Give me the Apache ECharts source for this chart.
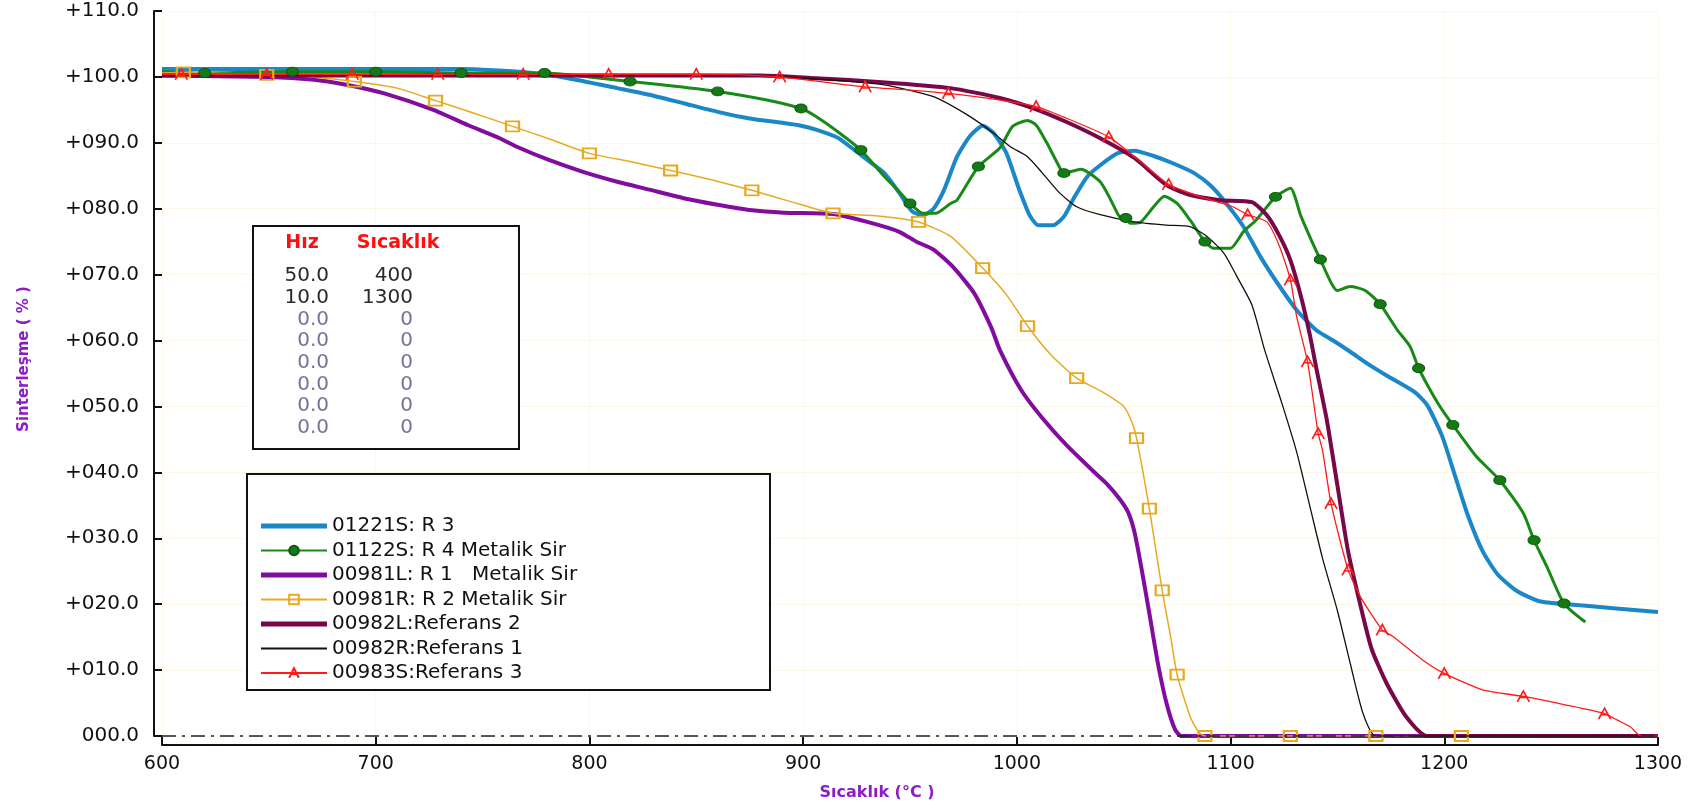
<!DOCTYPE html>
<html lang="tr">
<head>
    <meta charset="UTF-8">
    <title>Sinterleşme - Sıcaklık</title>
    <style>
        html, body { margin: 0; padding: 0; background: #fff; }
        #chart { width: 1701px; height: 810px; }
    </style>
</head>
<body>
    <div id="chart"></div>
    <script src="https://cdn.jsdelivr.net/npm/echarts@6/dist/echarts.min.js"></script>
    <script>
        // eksen araligi
        var xMin = 600, xMax = 1300, xStep = 100
        var yMin = 0, yMax = 110, yStep = 10

        // isitma programi tablosu
        var hizVals = [50.0, 10.0, 0.0, 0.0, 0.0, 0.0, 0.0, 0.0]
        var sicVals = [400, 1300, 0, 0, 0, 0, 0, 0]

        var seriesNames = [
            '01221S: R 3',
            '01122S: R 4 Metalik Sir',
            '00981L: R 1   Metalik Sir',
            '00981R: R 2 Metalik Sir',
            '00982L:Referans 2',
            '00982R:Referans 1',
            '00983S:Referans 3'
        ]

        // [sicaklik, sinterlesme %]
        var blueCurve = [[600,101.2],[740,101.2],[770,100.7],[790,99.8],[813,98.3],[828,97.3],[844,96.0],[860,94.7],[875,93.7],[891,93.0],[899,92.6],[906,92.0],[916,90.8],[922,89.4],[930,87.4],[938,85.4],[945,82.4],[951,79.6],[956,79.0],[961,80.0],[966,82.9],[972,87.9],[978,91.0],[984,92.6],[989,91.5],[995,88.5],[1001,83.0],[1006,79.0],[1010,77.5],[1017,77.5],[1022,78.8],[1027,81.8],[1033,84.9],[1039,86.6],[1047,88.4],[1055,88.8],[1064,88.0],[1073,86.9],[1083,85.4],[1091,83.4],[1098,80.8],[1106,77.3],[1114,72.7],[1123,68.2],[1131,64.6],[1140,61.6],[1148,60.0],[1156,58.3],[1164,56.5],[1174,54.5],[1186,52.2],[1192,50.2],[1199,45.5],[1205,39.5],[1211,33.5],[1218,28.0],[1225,24.5],[1234,22.0],[1245,20.4],[1265,19.8],[1300,18.8]]

        var greenCurve = [[600,100.8],[640,100.7],[680,100.8],[720,100.7],[760,100.6],[800,100.0],[840,98.6],[883,96.5],[906,94.0],[917,91.5],[938,84.9],[944,82.9],[956,79.3],[962,79.3],[969,80.8],[972,81.3],[992,89.2],[998,92.5],[1005,93.4],[1009,92.7],[1014,90.0],[1019,86.9],[1030,86.0],[1039,84.1],[1044,81.3],[1048,78.8],[1053,77.8],[1058,78.0],[1064,80.3],[1069,81.9],[1075,80.8],[1081,78.3],[1092,74.0],[1100,74.0],[1106,76.5],[1112,78.3],[1128,83.1],[1133,78.8],[1150,67.6],[1156,68.2],[1163,67.6],[1178,61.6],[1184,59.1],[1197,50.5],[1215,42.4],[1237,33.8],[1248,25.7],[1266,17.3]]
        var greenMarks = [[620,100.6],[661,100.8],[700,100.8],[740,100.6],[779,100.6],[819,99.3],[860,97.8],[899,95.2],[927,88.9],[950,80.8],[982,86.4],[1022,85.4],[1051,78.6],[1088,75.0],[1121,81.8],[1142,72.3],[1170,65.5],[1188,55.8],[1204,47.2],[1226,38.8],[1242,29.7],[1256,20.1]]

        var purpleCurve = [[600,100.2],[650,100.0],[670,99.6],[688,98.7],[704,97.5],[727,95.0],[743,92.7],[758,90.7],[766,89.4],[781,87.4],[797,85.6],[813,84.1],[828,82.9],[844,81.6],[860,80.6],[875,79.8],[891,79.4],[914,79.2],[930,78.0],[945,76.5],[953,75.0],[961,73.8],[970,71.2],[980,67.2],[988,62.0],[992,58.6],[1002,52.5],[1012,48.2],[1023,44.2],[1036,40.1],[1042,38.3],[1048,36.0],[1052,34.0],[1055,31.0],[1058,26.0],[1062,18.6],[1066,11.0],[1070,5.0],[1074,1.0],[1077,0],[1300,0]]

        var orangeCurve = [[600,100.6],[630,100.5],[670,100.0],[710,98.3],[745,94.6],[782,90.5],[820,87.1],[857,84.4],[895,81.0],[935,78.9],[969,75.8],[995,67.0],[1016,57.8],[1040,52.2],[1050,50.0],[1054,47.5],[1072,15.0],[1081,3.0],[1085,0.6],[1300,0]]
        var orangeMarks = [[610,100.7],[649,100.3],[690,99.3],[728,96.4],[764,92.5],[800,88.4],[838,85.8],[876,82.8],[914,79.3],[954,78.0],[984,71.0],[1005,62.2],[1028,54.3],[1056,45.2],[1062,34.5],[1068,22.1],[1075,9.3],[1088,0],[1128,0],[1168,0],[1208,0]]

        var maroonCurve = [[600,100.2],[880,100.2],[906,99.8],[937,99.2],[969,98.3],[992,96.8],[1008,95.2],[1023,93.2],[1039,90.7],[1055,87.7],[1070,83.6],[1080,82.2],[1095,81.3],[1110,81.0],[1117,79.0],[1123,75.8],[1128,72.2],[1133,66.6],[1137,61.0],[1140,56.0],[1145,48.0],[1150,38.0],[1155,28.0],[1161,19.5],[1166,13.2],[1173,8.0],[1182,3.0],[1192,0],[1300,0]]

        var blackCurve = [[600,100.3],[880,100.2],[910,99.6],[938,98.8],[961,97.0],[977,94.2],[989,91.5],[997,89.4],[1005,87.9],[1012,85.4],[1020,82.4],[1028,80.3],[1039,79.1],[1055,78.0],[1070,77.5],[1081,77.3],[1089,75.8],[1097,73.2],[1103,69.7],[1110,65.4],[1116,58.5],[1124,50.5],[1131,43.0],[1137,35.0],[1143,27.0],[1150,19.0],[1156,11.0],[1162,3.4],[1168,0],[1300,0]]

        var redCurve = [[600,100.4],[700,100.4],[800,100.4],[870,100.3],[910,99.2],[950,98.0],[990,96.6],[1025,93.5],[1055,87.9],[1086,81.8],[1101,80.3],[1117,78.0],[1123,74.2],[1131,63.5],[1143,43.4],[1161,21.0],[1176,15.1],[1190,11.5],[1218,7.0],[1257,4.7],[1281,2.4],[1287,1.4],[1292,0],[1300,0]]
        var redMarks = [[609,100.4],[649,100.4],[689,100.4],[729,100.4],[769,100.4],[809,100.4],[850,100.4],[889,100.0],[929,98.5],[968,97.5],[1009,95.5],[1043,90.9],[1071,83.7],[1108,79.1],[1128,69.2],[1136,56.8],[1141,45.9],[1147,35.3],[1155,25.2],[1171,16.1],[1200,9.5],[1237,6.0],[1275,3.4]]

        var font = 'DejaVu Sans'
        var axisColor = '#111'
        var gridColor = '#fcf7e9'
        var thickIcon = 'path://M0,0H66V5H0Z'
        var thinIcon = 'path://M0,0H66V2.2H0Z'

        // egri noktalari + isaretli noktalar (isaretsiz olanlarin sembolu yok)
        function withMarks(curve, marks) {
            var pts = curve.map(function (p) { return { value: p, symbol: 'none' } })
                .concat(marks.map(function (p) { return { value: p } }))
            pts.sort(function (a, b) { return a.value[0] - b.value[0] })
            return pts
        }

        function plain(name, data, color, width) {
            return {
                name: name, type: 'line', data: data,
                smooth: 0.2, symbol: 'none', showSymbol: false,
                lineStyle: { color: color, width: width },
                itemStyle: { color: color },
                emphasis: { disabled: true }
            }
        }

        var series = [
            plain(seriesNames[0], blueCurve, '#1a87c9', 4),
            {
                name: seriesNames[1], type: 'line', data: withMarks(greenCurve, greenMarks),
                smooth: 0.2, showAllSymbol: true,
                symbol: 'circle', symbolSize: [12, 9],
                lineStyle: { color: '#178a17', width: 3 },
                itemStyle: { color: '#157a15', borderColor: '#0d5a0d', borderWidth: 1 },
                emphasis: { disabled: true }
            },
            plain(seriesNames[2], purpleCurve, '#820c9e', 4),
            {
                name: seriesNames[3], type: 'line', data: withMarks(orangeCurve, orangeMarks),
                smooth: 0.2, showAllSymbol: true,
                symbol: 'rect', symbolSize: [13, 10],
                lineStyle: { color: '#e8a91e', width: 1.5 },
                itemStyle: { color: 'transparent', borderColor: '#e8a91e', borderWidth: 2 },
                emphasis: { disabled: true }
            },
            plain(seriesNames[4], maroonCurve, '#780848', 4),
            plain(seriesNames[5], blackCurve, '#111111', 1.3),
            {
                name: seriesNames[6], type: 'line', data: withMarks(redCurve, redMarks),
                smooth: 0.2, showAllSymbol: true,
                symbol: 'path://M0,10L5,0L10,10M2.2,6L7.8,6', symbolSize: [12, 11],
                lineStyle: { color: '#ff1a1a', width: 1.3 },
                itemStyle: { color: 'transparent', borderColor: '#ff1a1a', borderWidth: 1.6 },
                emphasis: { disabled: true }
            }
        ]

        // sifir cizgisi (kesik-noktali)
        series[0].markLine = {
            silent: true, symbol: 'none', label: { show: false },
            lineStyle: { color: '#222', width: 1.5, type: [14, 6, 3, 6] },
            data: [{ yAxis: 0 }]
        }

        // kutular, tablo ve eksen basliklari
        var graphics = [
            { type: 'rect', z: 9, shape: { x: 253, y: 226, width: 266, height: 223 },
              style: { fill: '#fff', stroke: '#111', lineWidth: 2 } },
            { type: 'rect', z: 9, shape: { x: 247, y: 474, width: 523, height: 216 },
              style: { fill: '#fff', stroke: '#111', lineWidth: 2 } },
            { type: 'text', z: 10, x: 302, y: 243,
              style: { text: 'Hız', fill: '#ff1010', font: 'bold 19px ' + font, align: 'center', verticalAlign: 'middle' } },
            { type: 'text', z: 10, x: 398, y: 243,
              style: { text: 'Sıcaklık', fill: '#ff1010', font: 'bold 19px ' + font, align: 'center', verticalAlign: 'middle' } },
            { type: 'text', z: 10, x: 877, y: 793,
              style: { text: 'Sıcaklık (°C )', fill: '#8b1dc9', font: 'bold 16px ' + font, align: 'center', verticalAlign: 'middle' } },
            { type: 'text', z: 10, x: 24, y: 359, rotation: Math.PI / 2,
              style: { text: 'Sinterleşme ( % )', fill: '#8b1dc9', font: 'bold 15px ' + font, align: 'center', verticalAlign: 'middle' } }
        ]
        hizVals.forEach(function (v, i) {
            var col = i < 2 ? '#2a2a2a' : '#74749a'
            var y = 276 + i * 21.7
            graphics.push({ type: 'text', z: 10, x: 329, y: y,
                style: { text: v.toFixed(1), fill: col, font: '20px ' + font, align: 'right', verticalAlign: 'middle' } })
            graphics.push({ type: 'text', z: 10, x: 413, y: y,
                style: { text: String(sicVals[i]), fill: col, font: '20px ' + font, align: 'right', verticalAlign: 'middle' } })
        })

        // duz cizgili seriler legendde sadece cizgi olarak gorunsun
        var legendData = seriesNames.map(function (n, i) {
            if (i === 0 || i === 2 || i === 4) return { name: n, icon: thickIcon }
            if (i === 5) return { name: n, icon: thinIcon }
            return { name: n }
        })

        var chart = echarts.init(document.getElementById('chart'))
        chart.setOption({
            animation: false,
            backgroundColor: '#ffffff',
            grid: { left: 162, right: 43, top: 11, bottom: 74, containLabel: false },
            xAxis: {
                type: 'value', min: xMin, max: xMax, interval: xStep, offset: 9,
                axisLine: { onZero: false, lineStyle: { color: axisColor, width: 2 } },
                axisTick: { inside: true, length: 8, lineStyle: { color: axisColor, width: 2 } },
                axisLabel: {
                    margin: 10, color: axisColor, fontSize: 19, fontFamily: font,
                    formatter: function (v) { return String(v) }
                },
                splitLine: { show: true, lineStyle: { color: gridColor, width: 1 } }
            },
            yAxis: {
                type: 'value', min: yMin, max: yMax, interval: yStep, offset: 8,
                axisLine: { show: true, onZero: false, lineStyle: { color: axisColor, width: 2 } },
                axisTick: { show: true, inside: true, length: 8, lineStyle: { color: axisColor, width: 2 } },
                axisLabel: {
                    margin: 15, color: axisColor, fontSize: 20, fontFamily: font,
                    formatter: function (v) {
                        if (v === 0) return '000.0'
                        return '+' + String(v).padStart(3, '0') + '.0'
                    }
                },
                splitLine: { show: true, lineStyle: { color: gridColor, width: 1 } }
            },
            legend: {
                orient: 'vertical', left: 255, top: 511, z: 10,
                itemWidth: 66, itemHeight: 12, itemGap: 4.5,
                selectedMode: false,
                textStyle: { fontFamily: font, fontSize: 20, color: '#111', lineHeight: 20 },
                data: legendData
            },
            graphic: graphics,
            series: series
        })
    </script>
</body>
</html>
